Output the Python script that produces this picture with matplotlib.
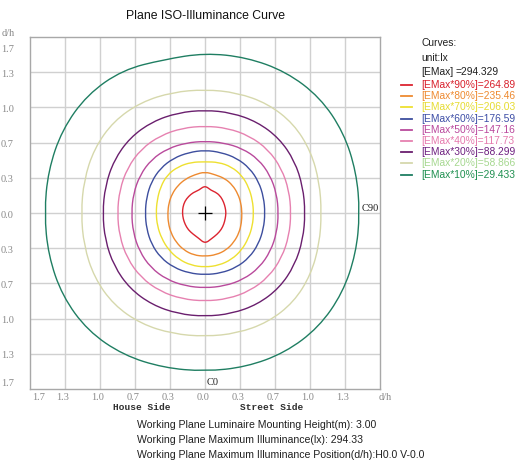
import numpy as np
import matplotlib
matplotlib.use("Agg")
import matplotlib.pyplot as plt
from matplotlib.lines import Line2D
from matplotlib.path import Path
from matplotlib.patches import PathPatch
from matplotlib.transforms import blended_transform_factory

# radius (d/h) of each iso-lux curve, read every 15 deg, counter-clockwise from C90 (right)
angles_deg = [0, 15, 30, 45, 60, 75, 90, 105, 120, 135, 150, 165,
              180, 195, 210, 225, 240, 255, 270, 285, 300, 315, 330, 345]

r_90 = [0.200, 0.200, 0.205, 0.215, 0.222, 0.222, 0.260, 0.224, 0.224, 0.222, 0.222, 0.218,
        0.215, 0.215, 0.218, 0.225, 0.230, 0.245, 0.290, 0.250, 0.232, 0.220, 0.208, 0.200]
r_80 = [0.352, 0.355, 0.362, 0.372, 0.378, 0.375, 0.390, 0.376, 0.372, 0.367, 0.362, 0.357,
        0.355, 0.362, 0.375, 0.390, 0.405, 0.413, 0.410, 0.410, 0.405, 0.390, 0.375, 0.360]
r_70 = [0.463, 0.468, 0.482, 0.500, 0.505, 0.498, 0.485, 0.498, 0.508, 0.510, 0.490, 0.472,
        0.466, 0.470, 0.478, 0.492, 0.505, 0.513, 0.513, 0.513, 0.508, 0.495, 0.478, 0.468]
r_60 = [0.572, 0.578, 0.591, 0.601, 0.601, 0.594, 0.595, 0.594, 0.600, 0.600, 0.590, 0.576,
        0.570, 0.576, 0.589, 0.598, 0.596, 0.589, 0.585, 0.589, 0.596, 0.597, 0.588, 0.577]
r_50 = [0.700, 0.706, 0.716, 0.720, 0.707, 0.688, 0.680, 0.688, 0.706, 0.720, 0.716, 0.706,
        0.700, 0.708, 0.722, 0.732, 0.728, 0.716, 0.710, 0.716, 0.728, 0.732, 0.722, 0.708]
r_40 = [0.820, 0.828, 0.842, 0.851, 0.844, 0.832, 0.824, 0.833, 0.848, 0.859, 0.854, 0.842,
        0.835, 0.843, 0.857, 0.864, 0.857, 0.843, 0.835, 0.842, 0.853, 0.857, 0.845, 0.829]
r_30 = [0.955, 0.965, 0.986, 1.000, 0.996, 0.983, 0.975, 0.984, 1.001, 1.010, 1.001, 0.984,
        0.975, 0.985, 1.002, 1.013, 1.005, 0.989, 0.980, 0.987, 1.000, 1.003, 0.987, 0.966]
r_20 = [1.110, 1.128, 1.165, 1.195, 1.196, 1.180, 1.170, 1.185, 1.214, 1.231, 1.219, 1.194,
        1.180, 1.194, 1.219, 1.231, 1.214, 1.185, 1.170, 1.180, 1.196, 1.195, 1.165, 1.128]
r_10 = [1.475, 1.492, 1.525, 1.549, 1.545, 1.526, 1.515, 1.505, 1.566, 1.586, 1.573, 1.546,
        1.530, 1.545, 1.570, 1.579, 1.555, 1.518, 1.500, 1.510, 1.527, 1.532, 1.514, 1.488]

curves = [r_90, r_80, r_70, r_60, r_50, r_40, r_30, r_20, r_10]
legend_labels = ['[EMax*90%]=264.89', '[EMax*80%]=235.46', '[EMax*70%]=206.03',
                 '[EMax*60%]=176.59', '[EMax*50%]=147.16', '[EMax*40%]=117.73',
                 '[EMax*30%]=88.299', '[EMax*20%]=58.866', '[EMax*10%]=29.433']
line_colors = ['#dc2430', '#ee8a30', '#eee030', '#3d4e9e', '#b94a9c', '#e681b0',
               '#6a1f6e', '#d6d8ac', '#1f7e62']
text_colors = ['#d8202c', '#ee8a30', '#e6dc30', '#3d4ea6', '#b9479c', '#e67aae',
               '#6e2080', '#a6d890', '#1f9050']

grid_steps = [-5, -4, -3, -2, -1, 0, 1, 2, 3, 4, 5]  # thirds of d/h
x_tick_labels = ['1.7', '1.3', '1.0', '0.7', '0.3', '0.0', '0.3', '0.7', '1.0', '1.3', 'd/h']
y_tick_labels = ['1.7', '1.3', '1.0', '0.7', '0.3', '0.0', '0.3', '0.7', '1.0', '1.3', '1.7']

info_lines = ['Working Plane Luminaire Mounting Height(m): 3.00',
              'Working Plane Maximum Illuminance(lx): 294.33',
              'Working Plane Maximum Illuminance Position(d/h):H0.0 V-0.0']

W, H = 518, 465


def px(x, y):
    return x / W, 1 - y / H


def smooth_closed(xs, ys):
    # quadratic bezier through the midpoints, read points used as control points
    pts = np.column_stack([xs, ys])
    mids = (pts + np.roll(pts, -1, axis=0)) / 2
    verts = [mids[-1]]
    codes = [Path.MOVETO]
    for i in range(len(pts)):
        verts += [pts[i], mids[i]]
        codes += [Path.CURVE3, Path.CURVE3]
    return Path(verts, codes)


fig = plt.figure(figsize=(W / 100, H / 100), dpi=100)
ax = fig.add_axes([30 / W, 1 - 389 / H, 350 / W, 352 / H])

lim = 5 / 3
ax.set_xlim(-lim, lim)
ax.set_ylim(-lim, lim)
ax.set_xticks([])
ax.set_yticks([])
for s in ax.spines.values():
    s.set_color('#a8a8a8')
    s.set_linewidth(1.0)

for k in grid_steps[1:-1]:
    ax.axvline(k / 3, color='#d0d0d0', lw=1.0, zorder=0)
    ax.axhline(k / 3, color='#d0d0d0', lw=1.0, zorder=0)

th = np.radians(angles_deg)
for r, c in zip(curves, line_colors):
    rr = np.array(r)
    path = smooth_closed(rr * np.cos(th), rr * np.sin(th))
    ax.add_patch(PathPatch(path, fill=False, edgecolor=c, lw=1.0, zorder=2))

ax.plot(0, 0, marker='+', color='black', markersize=10, mew=0.9, zorder=3)

tick_font = dict(family='Liberation Serif', fontsize=7.5, color='#8a8a8a')
bt = blended_transform_factory(ax.transData, ax.transAxes)
for k, lab in zip(grid_steps, x_tick_labels):
    xv = k / 3 - 0.02
    if k == -5:
        xv = -1.585
    if k == 5:
        xv = 1.72
    ax.text(xv, -0.024, lab, transform=bt, ha='center', va='center', **tick_font)

bt2 = blended_transform_factory(ax.transAxes, ax.transData)
for k, lab in zip(grid_steps[::-1], y_tick_labels):
    yv = k / 3 - 0.02
    if k == 5:
        yv = 1.547
    if k == -5:
        yv = -1.613
    ax.text(-0.046, yv, lab, transform=bt2, ha='right', va='center', **tick_font)

fig.text(*px(8, 33), 'd/h', ha='center', va='center', **tick_font)

side_font = dict(family='Liberation Mono', fontsize=6.8, color='#303030', fontweight='bold')
ax.text(-0.60, -0.052, 'House Side', transform=bt, ha='center', va='center', **side_font)
ax.text(0.63, -0.052, 'Street Side', transform=bt, ha='center', va='center', **side_font)

ax.text(0.02, -1.645, 'C0', ha='left', va='bottom', family='Liberation Serif',
        fontsize=7.5, color='#202020')
ax.text(1.66, 0.045, 'C90', ha='right', va='center', family='Liberation Serif',
        fontsize=7.5, color='#202020')

fig.text(*px(205, 16), 'Plane ISO-Illuminance Curve', ha='center', va='center',
         family='Liberation Sans', fontsize=8.8, color='#111111')

leg_font = dict(family='Liberation Sans', fontsize=7.4)
fig.text(*px(421, 43), 'Curves:', ha='left', va='center', color='#202020', **leg_font)
fig.text(*px(421, 58), 'unit:lx', ha='left', va='center', color='#202020', **leg_font)
fig.text(*px(421, 72), '[EMax]', ha='left', va='center', color='#202020', **leg_font)
fig.text(*px(456, 72), '=294.329', ha='left', va='center', color='#202020', **leg_font)
for i, (lab, lc, tc) in enumerate(zip(legend_labels, line_colors, text_colors)):
    yy = 85 + i * 11.2
    x0, y0 = px(401, yy)
    x1, _ = px(412, yy)
    fig.add_artist(Line2D([x0, x1], [y0, y0], transform=fig.transFigure, color=lc, lw=1.3))
    fig.text(*px(421, yy), lab, ha='left', va='center', color=tc, **leg_font)

for i, line in enumerate(info_lines):
    fig.text(*px(137, 425 + i * 15), line, ha='left', va='center', color='#202020',
             family='Liberation Sans', fontsize=7.6)

fig.savefig('out.png', dpi=100, facecolor='white')
